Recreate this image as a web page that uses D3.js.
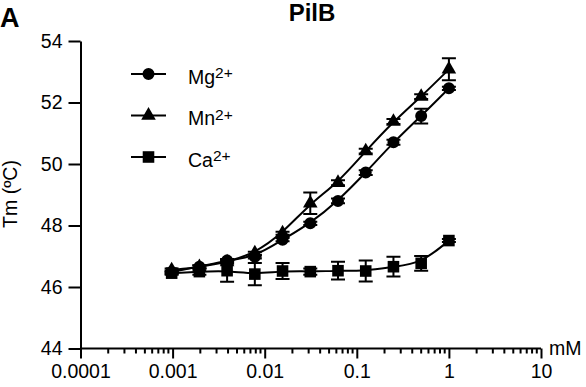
<!DOCTYPE html>
<html>
<head>
<meta charset="utf-8">
<script src="https://cdn.jsdelivr.net/npm/d3@7"></script>
<style>
body { margin: 0; background: #fff; }
text { font-family: "Liberation Sans", Arial, sans-serif; fill: #000; }
</style>
</head>
<body>
<script>
var width = 586,
    height = 387;

// concentrations (mM), two-fold dilution from 1 mM
var conc = [0.0009765625, 0.001953125, 0.00390625, 0.0078125, 0.015625, 0.03125, 0.0625, 0.125, 0.25, 0.5, 1];
var mgTm = [46.49, 46.66, 46.86, 46.98, 47.54, 48.07, 48.80, 49.72, 50.71, 51.56, 52.46];
var mgErr = [0.05, 0.05, 0.05, 0.05, 0.05, 0.05, 0.08, 0.08, 0.08, 0.24, 0.05];
var mnTm = [46.55, 46.65, 46.81, 47.10, 47.75, 48.72, 49.39, 50.42, 51.38, 52.19, 53.08];
var mnErr = [0.05, 0.05, 0.05, 0.05, 0.05, 0.35, 0.08, 0.08, 0.08, 0.08, 0.36];
var caTm = [46.45, 46.50, 46.53, 46.42, 46.52, 46.50, 46.53, 46.52, 46.66, 46.77, 47.51];
var caErr = [0.05, 0.1, 0.36, 0.36, 0.26, 0.1, 0.29, 0.34, 0.32, 0.24, 0.05];

var xTicks = [0.0001, 0.001, 0.01, 0.1, 1, 10];
var xTickLabels = ["0.0001", "0.001", "0.01", "0.1", "1", "10"];
var yTicks = [44, 46, 48, 50, 52, 54];
var seriesNames = ["Mg", "Mn", "Ca"];
var seriesShapes = ["circle", "triangle", "square"];

var x = d3.scaleLog().domain([0.0001, 10]).range([80.5, 541]);
var y = d3.scaleLinear().domain([44, 54]).range([348.5, 41]);

var svg = d3.select("body").append("svg")
    .attr("width", width)
    .attr("height", height);

function symbolFor(shape) {
    if (shape === "circle") return d3.symbol().type(d3.symbolCircle).size(113)();
    if (shape === "triangle") return d3.symbol().type(d3.symbolTriangle).size(92)();
    return d3.symbol().type(d3.symbolSquare).size(134)();
}

// minor ticks 2..9 in every decade
var minor = [];
for (var e = -4; e < 1; e++) {
    for (var m = 2; m < 10; m++) minor.push(m * Math.pow(10, e));
}

svg.append("g")
    .attr("transform", "translate(0,348.5)")
    .selectAll("line.minor")
    .data(minor)
    .enter().append("line")
    .attr("x1", function (d) { return x(d); })
    .attr("x2", function (d) { return x(d); })
    .attr("y1", 0).attr("y2", 5)
    .attr("stroke", "#000").attr("stroke-width", 2);

var xAxis = d3.axisBottom(x)
    .tickValues(xTicks)
    .tickFormat(function (d, i) { return xTickLabels[i]; })
    .tickSize(10)
    .tickSizeOuter(0)
    .tickPadding(6);

var gx = svg.append("g")
    .attr("transform", "translate(0,348.5)")
    .call(xAxis);
gx.select(".domain").attr("stroke-width", 2).attr("d", "M80.5,0H541");
gx.selectAll(".tick line").attr("stroke-width", 2);
gx.selectAll(".tick text").style("font-size", "19.5px").style("font-family", "Liberation Sans, Arial, sans-serif");

var yAxis = d3.axisLeft(y)
    .tickValues(yTicks)
    .tickSize(12)
    .tickSizeOuter(0)
    .tickPadding(6);

var gy = svg.append("g")
    .attr("transform", "translate(80.5,0)")
    .call(yAxis);
gy.select(".domain").attr("stroke-width", 2);
gy.selectAll(".tick line").attr("stroke-width", 2);
gy.selectAll(".tick text").style("font-size", "19.5px").style("font-family", "Liberation Sans, Arial, sans-serif");

svg.append("text")
    .attr("x", 549).attr("y", 355)
    .style("font-size", "19.5px")
    .text("mM");

svg.append("text")
    .attr("transform", "translate(17,194) rotate(-90)")
    .attr("text-anchor", "middle")
    .style("font-size", "19.5px")
    .text("Tm (\u00baC)");

svg.append("text")
    .attr("x", 312).attr("y", 21)
    .attr("text-anchor", "middle")
    .style("font-size", "24px").style("font-weight", "bold")
    .text("PilB");

svg.append("text")
    .attr("x", 0).attr("y", 27)
    .style("font-size", "27px").style("font-weight", "bold")
    .text("A");

var line = d3.line()
    .x(function (d) { return x(d[0]); })
    .y(function (d) { return y(d[1]); })
    .curve(d3.curveBasis);

var series = [
    { vals: mgTm, err: mgErr },
    { vals: mnTm, err: mnErr },
    { vals: caTm, err: caErr }
];

series.forEach(function (s, k) {
    var pts = conc.map(function (c, i) { return [c, s.vals[i], s.err[i]]; });
    svg.append("path")
        .attr("d", line(pts))
        .attr("fill", "none")
        .attr("stroke", "#000")
        .attr("stroke-width", 2);
    var eb = svg.append("g");
    pts.forEach(function (p) {
        var cx = x(p[0]), y0 = y(p[1] - p[2]), y1 = y(p[1] + p[2]);
        eb.append("path")
            .attr("d", "M" + cx + "," + y0 + "V" + y1 +
                "M" + (cx - 7) + "," + y0 + "H" + (cx + 7) +
                "M" + (cx - 7) + "," + y1 + "H" + (cx + 7))
            .attr("stroke", "#000").attr("stroke-width", 2).attr("fill", "none");
    });
    svg.append("g").selectAll("path.pt")
        .data(pts)
        .enter().append("path")
        .attr("transform", function (d) { return "translate(" + x(d[0]) + "," + y(d[1]) + ")"; })
        .attr("d", symbolFor(seriesShapes[k]))
        .attr("fill", "#000");
});

// legend
var legend = svg.append("g");
seriesNames.forEach(function (name, i) {
    var ly = 74 + i * 41.5;
    legend.append("line")
        .attr("x1", 131).attr("x2", 166)
        .attr("y1", ly).attr("y2", ly)
        .attr("stroke", "#000").attr("stroke-width", 2);
    legend.append("path")
        .attr("transform", "translate(148.5," + ly + ")")
        .attr("d", symbolFor(seriesShapes[i]))
        .attr("fill", "#000");
    var t = legend.append("text")
        .attr("x", 188).attr("y", ly + 9.5)
        .style("font-size", "19.5px");
    t.append("tspan").text(name);
    t.append("tspan").attr("dy", -5.5).style("font-size", "15.5px").text("2+");
});
</script>
</body>
</html>
